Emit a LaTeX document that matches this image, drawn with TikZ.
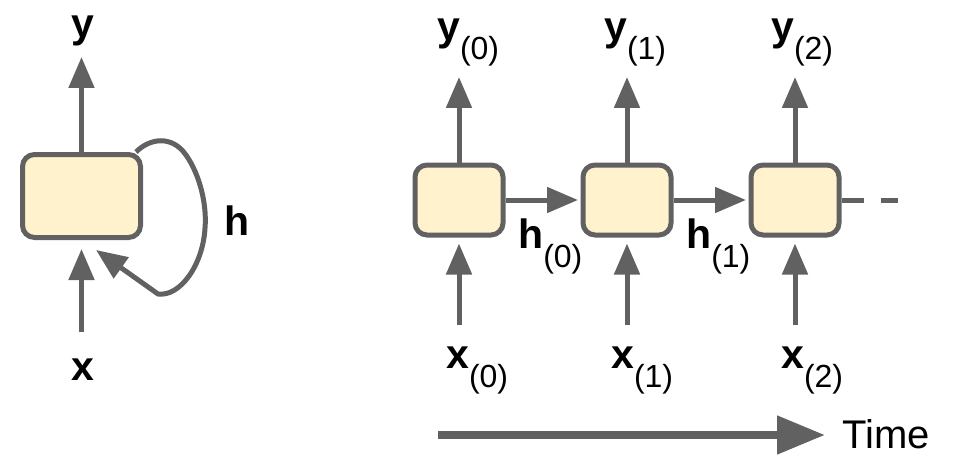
\documentclass[tikz,border=0pt]{standalone}
\usepackage{fontspec}
\setmainfont{Liberation Sans}
\usetikzlibrary{arrows.meta}
\definecolor{lineg}{HTML}{616161}
\definecolor{cellfill}{HTML}{FFF2CC}
\newcommand\rlab[2]{{\bfseries #1}\raisebox{-19pt}{\fontsize{32}{34}\selectfont(#2)}}
\begin{document}
\begin{tikzpicture}[x=1pt,y=-1pt,
  cell/.style={draw=lineg, fill=cellfill, line width=5pt, rounded corners=12pt, inner sep=0pt},
  conn/.style={draw=lineg, line width=5pt, -{Triangle[length=31pt,width=25pt]}},
  lbl/.style={inner sep=0pt, font=\fontsize{41}{45}\selectfont, anchor=base west}]
\useasboundingbox (0,0) rectangle (974,468);
% folded cell
\node[cell, minimum width=118pt, minimum height=83pt] (lb) at (81.5,196) {};
\coordinate (lytip) at (81.5,57);
\coordinate (lxstart) at (81.5,332);
\coordinate (fbtip) at (96,250);
\draw[conn] (lb.north) -- (lytip);
\draw[conn, shorten >=9pt] (lxstart) -- (lb.south);
\draw[conn] ([xshift=-7pt]lb.north east) .. controls (150,138) and (172,135) .. (186,155)
  .. controls (200,175) and (207,205) .. (205,228)
  .. controls (203,265) and (180,297) .. (158,294) -- (fbtip);
\node[lbl] (ly) at (71,38) {\bfseries y};
\node[lbl] (lx) at (71,380) {\bfseries x};
\node[lbl] (lh) at (224,235) {\bfseries h};
% unrolled cells
\foreach \i/\cx in {0/459,1/627,2/795}{
  \node[cell, minimum width=88pt, minimum height=70pt] (b\i) at (\cx,200) {};
  \coordinate (yt\i) at (\cx,77);
  \coordinate (xs\i) at (\cx,325);
  \draw[conn] (b\i.north) -- (yt\i);
  \draw[conn, shorten >=6pt] (xs\i) -- (b\i.south);
}
\draw[conn, shorten >=2.5pt] (b0.east) -- (b1.west);
\draw[conn, shorten >=2.5pt] (b1.east) -- (b2.west);
\coordinate (cont) at (898,200);
\draw[lineg, line width=5pt, dash pattern=on 22pt off 17pt on 30pt] (b2.east) -- (cont);
\node[lbl] (y0) at (437,41) {\rlab{y}{0}};
\node[lbl] (y1) at (604,41) {\rlab{y}{1}};
\node[lbl] (y2) at (771,41) {\rlab{y}{2}};
\node[lbl] (x0) at (446,368) {\rlab{x}{0}};
\node[lbl] (x1) at (611,368) {\rlab{x}{1}};
\node[lbl] (x2) at (781,368) {\rlab{x}{2}};
\node[lbl] (h0) at (518,248) {\rlab{h}{0}};
\node[lbl] (h1) at (686,248) {\rlab{h}{1}};
% time axis
\coordinate (tstart) at (438,435);
\node[lbl, font=\fontsize{40}{44}\selectfont] (time) at (842,448) {Time};
\draw[draw=lineg, line width=8pt, -{Triangle[length=48pt,width=37pt]}] (tstart) -- ([xshift=-17pt]time.west |- tstart);
\end{tikzpicture}
\end{document}
